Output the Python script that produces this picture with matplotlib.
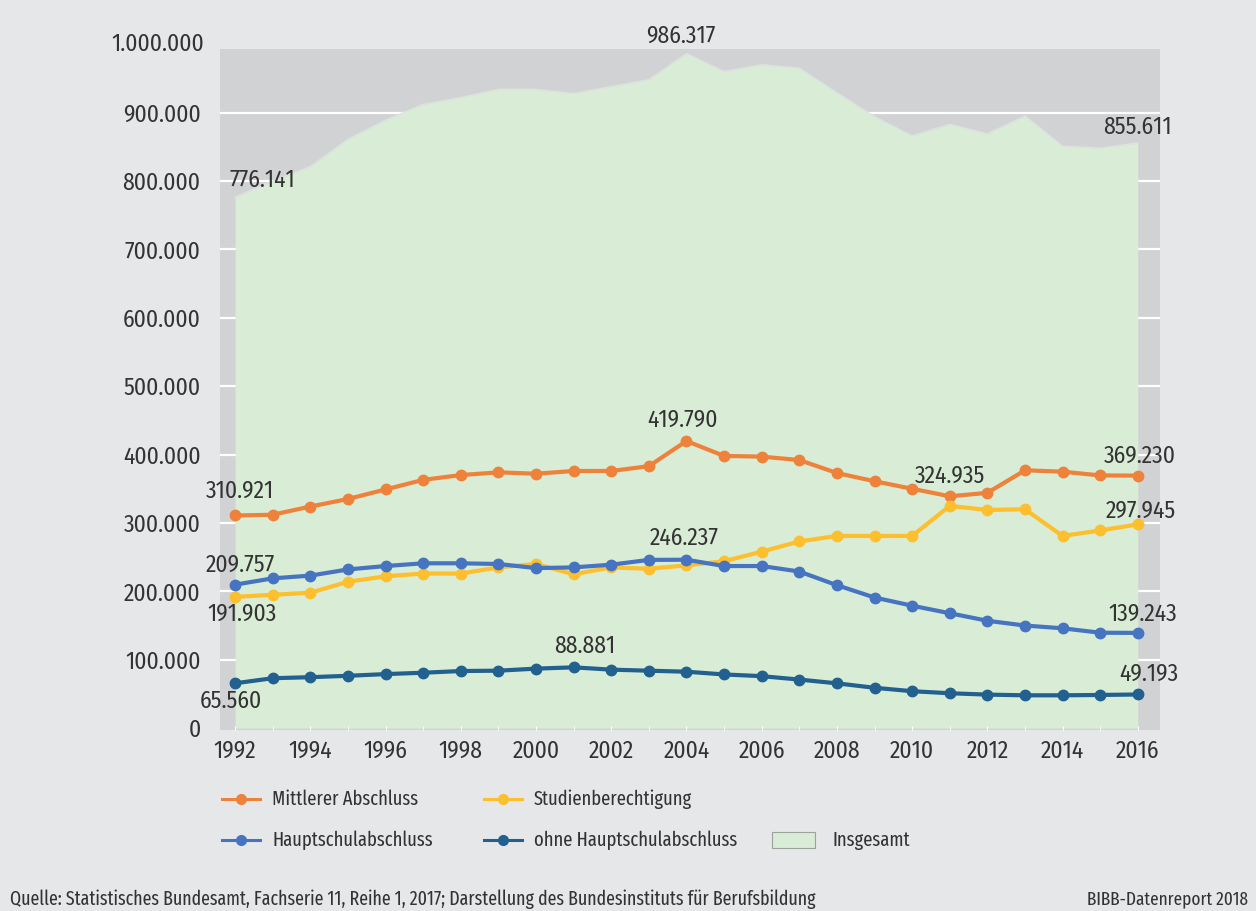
import matplotlib
matplotlib.use("Agg")
import matplotlib.pyplot as plt
from matplotlib.lines import Line2D
from matplotlib.patches import Rectangle

years = list(range(1992, 2017))
insgesamt = [776141, 800000, 821000, 861000, 889000, 912000, 922000, 934000, 934000,
             928000, 938000, 948000, 986317, 960000, 970000, 965000, 929000, 894000,
             866000, 883000, 869000, 895000, 851000, 848000, 855611]
mittlerer = [310921, 312000, 324000, 335000, 349000, 363000, 370000, 374000, 372000,
             376000, 376000, 383000, 419790, 398000, 397000, 392000, 373000, 361000,
             350000, 339000, 344000, 377000, 375000, 369500, 369230]
studien = [191903, 195000, 198000, 214000, 222000, 226000, 226000, 235000, 240000,
           225000, 235000, 233000, 238000, 244000, 258000, 273000, 281000, 281000,
           281000, 324935, 319000, 320000, 281000, 289000, 297945]
haupt = [209757, 219000, 223000, 232000, 237000, 241000, 241000, 240000, 234000,
         235000, 239000, 246000, 246237, 237000, 237000, 229000, 209000, 191000,
         179000, 168000, 157000, 150000, 146000, 139500, 139243]
ohne = [65560, 73000, 74500, 76500, 79000, 81000, 83500, 84000, 87000,
        88881, 85500, 84000, 82500, 78500, 76000, 71000, 65500, 59000,
        54000, 51000, 49000, 48000, 48000, 48500, 49193]

series_names = ["Mittlerer Abschluss", "Studienberechtigung", "Hauptschulabschluss",
                "ohne Hauptschulabschluss"]
colors = ["#ee823a", "#fdbf2d", "#4674c1", "#22608f"]
area_name = "Insgesamt"

# labels: (series, year index, dx px, dy px)
labels = [
    ("insg", 0, 27, 17), ("insg", 12, -6, 17), ("insg", 24, 0, 16),
    ("mit", 0, 5, 24), ("mit", 12, -4, 21), ("mit", 24, 2, 20),
    ("stu", 0, 7, -17), ("stu", 19, 0, 30), ("stu", 24, 3, 13),
    ("hau", 0, 5, 20), ("hau", 12, -2, 21), ("hau", 24, 5, 19),
    ("ohn", 0, -4, -18), ("ohn", 9, 11, 21), ("ohn", 24, 11, 20),
]

FONT = ["Fira Sans Condensed", "IBM Plex Sans Condensed", "Open Sans Condensed", "DejaVu Sans"]
LFONT = ["Fira Sans Extra Condensed", "Fira Sans Condensed", "IBM Plex Sans Condensed",
         "Open Sans Condensed", "DejaVu Sans"]
TXT = "#333333"
NUMSIZE = 17

fig = plt.figure(figsize=(12.56, 9.11), dpi=100)
fig.patch.set_facecolor("#e6e7e9")
ax = fig.add_axes([220 / 1256, 1 - 729.5 / 911, 940 / 1256, (729.5 - 49) / 911])
ax.set_facecolor("#d1d2d4")

ax.set_xlim(1991.6, 2016.59)
ax.set_ylim(-2000, 993000)

yt = list(range(0, 1000000, 100000))
for y in yt[1:]:
    ax.axhline(y, color="white", lw=1.6, zorder=0.5)

ax.fill_between(years, insgesamt, 0, color="#d9ecd5", lw=0, zorder=1)
ax.plot(years, insgesamt, color="#dde3e0", lw=1.0, zorder=1.1)

data = {"mit": mittlerer, "stu": studien, "hau": haupt, "ohn": ohne, "insg": insgesamt}
for vals, c in zip([mittlerer, studien, haupt, ohne], colors):
    ax.plot(years, vals, color=c, lw=3.0, marker="o", ms=7.5, zorder=3)

for key, i, dx, dy in labels:
    v = data[key][i]
    txt = f"{v:,}".replace(",", ".")
    ax.annotate(txt, (years[i], v), xytext=(dx, dy), textcoords="offset pixels",
                ha="center", va="center", fontsize=NUMSIZE, family=FONT, color=TXT,
                zorder=5, annotation_clip=False)

ax.set_yticks(yt)
ax.set_yticklabels([f"{y:,}".replace(",", ".") for y in yt])
ax.text(-0.017, 1000000, "1.000.000", transform=ax.get_yaxis_transform(),
        ha="right", va="center", fontsize=NUMSIZE, family=FONT, color=TXT, clip_on=False)
ax.set_xticks(years, minor=True)
ax.set_xticks(years[::2])
ax.tick_params(axis="y", length=0, pad=14, labelsize=NUMSIZE, labelcolor=TXT)
ax.tick_params(axis="x", which="both", direction="in", length=3, color="white",
               pad=7, labelsize=NUMSIZE, labelcolor=TXT)
for lab in ax.get_xticklabels() + ax.get_yticklabels():
    lab.set_family(FONT)
for s in ax.spines.values():
    s.set_visible(False)

# legend (manual layout)
W, H = 1256, 911
def fx(x):
    return x / W
def fy(y):
    return 1 - y / H

entries = [
    (series_names[0], colors[0], 222, 799),
    (series_names[1], colors[1], 484, 799),
    (series_names[2], colors[2], 222, 840),
    (series_names[3], colors[3], 484, 840),
]
for name, c, x0, y0 in entries:
    fig.add_artist(Line2D([fx(x0), fx(x0 + 38)], [fy(y0), fy(y0)], color=c, lw=2.2,
                          transform=fig.transFigure))
    fig.add_artist(Line2D([fx(x0 + 19)], [fy(y0)], color=c, marker="o", ms=7,
                          transform=fig.transFigure))
    fig.text(fx(x0 + 50), fy(y0), name, ha="left", va="center", fontsize=14.5,
             family=LFONT, color=TXT)
fig.add_artist(Rectangle((fx(772), fy(848)), fx(43), 16 / H, facecolor="#d9ecd5",
                         edgecolor="#9aa39a", lw=0.8, transform=fig.transFigure))
fig.text(fx(832), fy(840), area_name, ha="left", va="center", fontsize=14.5,
         family=LFONT, color=TXT)

fig.text(fx(10), fy(899), "Quelle: Statistisches Bundesamt, Fachserie 11, Reihe 1, 2017; "
         "Darstellung des Bundesinstituts für Berufsbildung", ha="left", va="center",
         fontsize=14, family=LFONT, color=TXT)
fig.text(fx(1248), fy(899), "BIBB-Datenreport 2018", ha="right", va="center",
         fontsize=13.5, family=LFONT, color=TXT)

fig.savefig("out.png", dpi=100, facecolor=fig.get_facecolor())
